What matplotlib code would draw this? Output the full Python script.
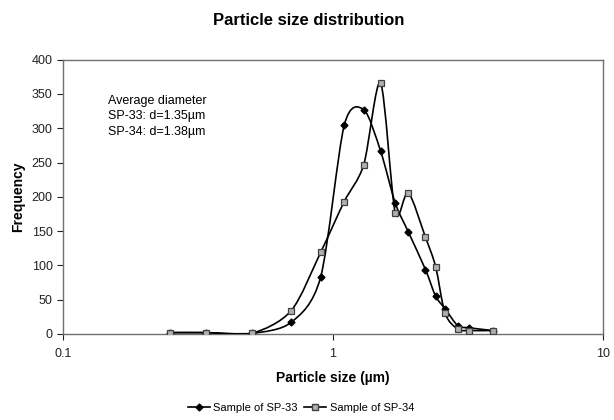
import numpy as np
import matplotlib
matplotlib.use("Agg")
import matplotlib.pyplot as plt
from matplotlib.path import Path
from matplotlib.patches import PathPatch
from matplotlib.lines import Line2D

plt.rcParams['font.family'] = ['Liberation Sans', 'DejaVu Sans']

size_um = [0.25, 0.34, 0.5, 0.7, 0.9, 1.1, 1.3, 1.5, 1.7, 1.9, 2.2, 2.4, 2.6, 2.9, 3.2, 3.9]
sp33 = [2, 2, 1, 17, 83, 304, 327, 267, 191, 149, 94, 55, 37, 12, 9, 5]
sp34 = [2, 2, 1, 34, 119, 193, 247, 366, 177, 206, 141, 98, 30, 7, 5, 5]

fig = plt.figure(figsize=(6.14, 4.2), dpi=100)
ax = fig.add_axes([0.1026, 0.2048, 0.8795, 0.6532])
ax.set_xscale('log')
ax.set_xlim(0.1, 10)
ax.set_ylim(0, 400)


def smooth_path(xs, ys):
    # Excel-like smoothed line: cubic Bezier through points, computed in axes space
    pts = ax.transAxes.inverted().transform(ax.transData.transform(np.column_stack([xs, ys])))
    n = len(pts)
    verts = [pts[0]]
    codes = [Path.MOVETO]
    k = 7.0
    for i in range(n - 1):
        p0 = pts[i - 1] if i > 0 else pts[i]
        p1 = pts[i]
        p2 = pts[i + 1]
        p3 = pts[i + 2] if i + 2 < n else pts[i + 1]
        c1 = p1 + (p2 - p0) / k
        c2 = p2 - (p3 - p1) / k
        verts += [c1, c2, p2]
        codes += [Path.CURVE4] * 3
    return Path(verts, codes)


for ys in (sp33, sp34):
    ax.add_patch(PathPatch(smooth_path(size_um, ys), transform=ax.transAxes,
                           facecolor='none', edgecolor='black', lw=1.2, zorder=3))

ax.plot(size_um, sp33, linestyle='none', marker='D', ms=3.5, color='black', zorder=4)
ax.plot(size_um, sp34, linestyle='none', marker='s', ms=4.5, markerfacecolor='#b0b0b0',
        markeredgecolor='#404040', markeredgewidth=0.9, zorder=5)

ax.set_yticks(np.arange(0, 401, 50))
ax.set_xticks([0.1, 1, 10])
ax.set_xticklabels(['0.1', '1', '10'])
ax.minorticks_off()
ax.tick_params(axis='both', direction='out', length=4, width=0.8, labelsize=9, colors='#222222')
ax.tick_params(axis='x', pad=6)
for s in ax.spines.values():
    s.set_color('#707070')
    s.set_linewidth(1.0)

ax.set_xlabel('Particle size (\u00b5m)', fontsize=10, fontweight='bold', labelpad=8)
ax.set_ylabel('Frequency', fontsize=10, fontweight='bold', labelpad=5)
fig.text(0.502, 0.952, 'Particle size distribution', ha='center', va='center',
         fontsize=12, fontweight='bold')

ax.text(0.084, 0.87, 'Average diameter\nSP-33: d=1.35\u00b5m\nSP-34: d=1.38\u00b5m',
        transform=ax.transAxes, ha='left', va='top', fontsize=9, linespacing=1.35)

handles = [
    Line2D([], [], color='black', lw=1.2, marker='D', ms=3.5),
    Line2D([], [], color='black', lw=1.2, marker='s', ms=4.5, markerfacecolor='#b0b0b0',
           markeredgecolor='#404040'),
]
fig.legend(handles, ['Sample of SP-33', 'Sample of SP-34'], loc='center',
           bbox_to_anchor=(0.49, 0.028), ncol=2, frameon=False, fontsize=8,
           handlelength=2.0, handletextpad=0.3, columnspacing=0.6)

fig.savefig('out.png', dpi=100)
